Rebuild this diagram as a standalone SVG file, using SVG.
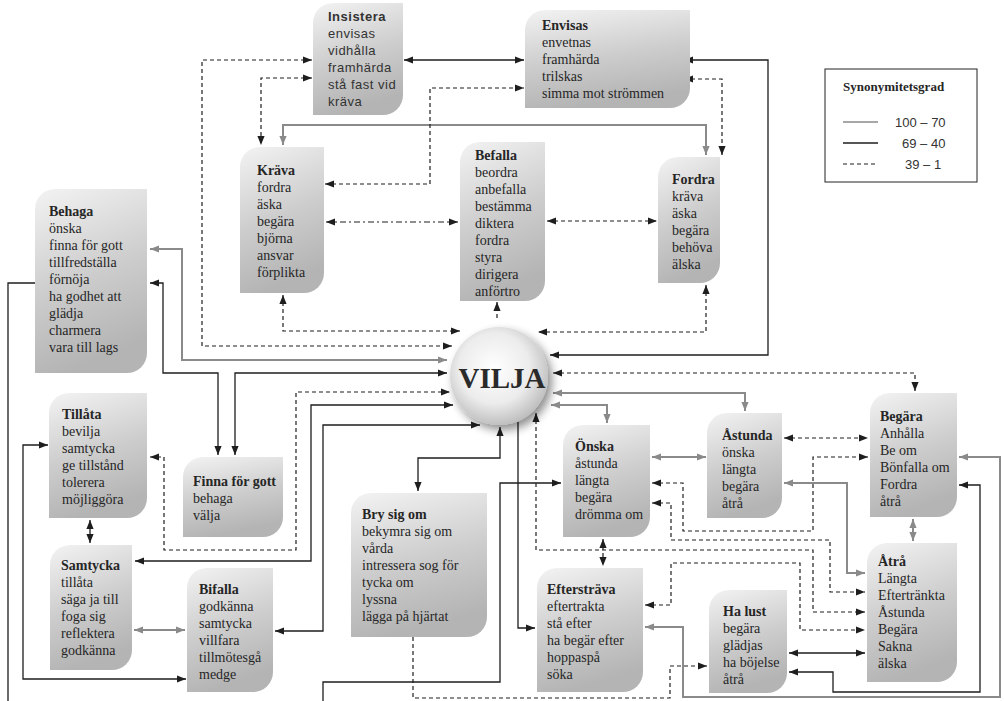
<svg xmlns="http://www.w3.org/2000/svg" width="1004" height="701" viewBox="0 0 1004 701">
<style>
.box{fill:url(#g);}
.t{font-family:"Liberation Serif","Times New Roman",serif;font-size:14px;fill:#262626;}
.s{font-family:"Liberation Sans",Arial,sans-serif;font-size:13px;fill:#333;letter-spacing:0.5px;}
.b{font-weight:bold;}
.k{fill:none;stroke:#1e1e1e;stroke-width:1.3;marker-start:url(#ak);marker-end:url(#ak);}
.d{fill:none;stroke:#1e1e1e;stroke-width:1.2;stroke-dasharray:4 3;marker-start:url(#ak);marker-end:url(#ak);}
.dd{fill:none;stroke:#1e1e1e;stroke-width:1.2;stroke-dasharray:6 3 2 3;marker-start:url(#ak);marker-end:url(#ak);}
.gr{fill:none;stroke:#8a8a8a;stroke-width:2;marker-start:url(#ag);marker-end:url(#ag);}
.e{marker-start:none;}
.n{marker-start:none;marker-end:none;}
</style>
<defs>
<linearGradient id="g" x1="0" y1="0" x2="0.25" y2="1">
<stop offset="0" stop-color="#f3f3f3"/>
<stop offset="0.55" stop-color="#cdcdcd"/>
<stop offset="1" stop-color="#b4b4b4"/>
</linearGradient>
<radialGradient id="vg" cx="0.45" cy="0.42" r="0.6">
<stop offset="0" stop-color="#ffffff"/>
<stop offset="0.6" stop-color="#ececec"/>
<stop offset="1" stop-color="#bcbcbc"/>
</radialGradient>
<filter id="sh" x="-30%" y="-30%" width="160%" height="160%">
<feGaussianBlur in="SourceAlpha" stdDeviation="5"/>
<feOffset dx="4" dy="5" result="o"/>
<feComponentTransfer><feFuncA type="linear" slope="0.45"/></feComponentTransfer>
<feMerge><feMergeNode/><feMergeNode in="SourceGraphic"/></feMerge>
</filter>
<marker id="ak" viewBox="0 0 10 8" refX="10" refY="4" markerWidth="9" markerHeight="7.2" markerUnits="userSpaceOnUse" orient="auto-start-reverse">
<path d="M0,0 L10,4 L0,8 Z" fill="#1e1e1e"/>
</marker>
<marker id="ag" viewBox="0 0 10 8" refX="10" refY="4" markerWidth="9" markerHeight="7.2" markerUnits="userSpaceOnUse" orient="auto-start-reverse">
<path d="M0,0 L10,4 L0,8 Z" fill="#8a8a8a"/>
</marker>
</defs>
<rect width="1004" height="701" fill="#ffffff"/>

<g id="connectors">
<path class="k" d="M404,60 H524"/>
<path class="d" d="M312,60 H202 V346 H452"/>
<path class="d" d="M312,78 H261 V145"/>
<path class="gr" d="M283,145 V125 H706 V155"/>
<path class="d" d="M684,79 H722 V155"/>
<path class="k" d="M684,60 H768 V355 H550"/>
<path class="d" d="M325,184 H430 V88 H524"/>
<path class="dd" d="M326,222 H458"/>
<path class="d" d="M547,221 H657"/>
<path class="d" d="M283,295 V331 H460"/>
<path class="d e" d="M497,318 V302"/>
<path class="d" d="M706,285 V332 H538"/>
<path class="gr" d="M150,249 H182 V360 H447"/>
<path class="k" d="M150,283 H163 V373 H218 V455"/>
<path class="k" d="M235,455 V373 H447"/>
<path class="k n" d="M35,283 H8 V701"/>
<path class="k" d="M48,445 H23 V679 H186"/>
<path class="k" d="M90,520 V543"/>
<path class="d" d="M150,457 H164 V550 H296 V392 H450"/>
<path class="k" d="M135,561 H311 V405 H453"/>
<path class="k" d="M275,631 H323 V425 H480"/>
<path class="gr" d="M134,630 H185"/>
<path class="k" d="M418,491 V458 H500 V427"/>
<path class="d" d="M553,373 H915 V391"/>
<path class="gr" d="M553,393 H745 V411"/>
<path class="gr" d="M551,405 H607 V423"/>
<path class="gr" d="M652,457 H706"/>
<path class="d" d="M784,438 H868"/>
<path class="d" d="M652,483 H683 V531 H813 V457 H868"/>
<path class="gr" d="M784,483 H847 V573 H865"/>
<path class="gr" d="M913,519 V541"/>
<path class="k" d="M959,485 H980 V692 H833 V672 H789"/>
<path class="gr" d="M959,457 H1000 V697 H683 V627 H645"/>
<path class="d" d="M652,503 H671 V540 H830 V592 H865"/>
<path class="d" d="M536,413 V550 H813 V612 H865"/>
<path class="d" d="M645,605 H671 V563 H800 V630 H865"/>
<path class="d" d="M603,539 V566"/>
<path class="k" d="M789,653 H865"/>
<path class="d e" d="M413,637 V698 H670 V666 H707"/>
<path class="k e" d="M518,422 V628 H535"/>
<path class="k e" d="M323,701 V682 H500 V483 H561"/>
</g>

<g id="insistera">
<path class="box" d="M333,3 H403 V95 A20 20 0 0 1 383,115 H313 V23 A20 20 0 0 1 333,3 Z"/>
<text class="s"><tspan x="328" y="21" class="b">Insistera</tspan><tspan x="328" y="38">envisas</tspan><tspan x="328" y="55">vidhålla</tspan><tspan x="328" y="72">framhärda</tspan><tspan x="328" y="89">stå fast vid</tspan><tspan x="328" y="106">kräva</tspan></text>
</g>
<g id="envisas">
<path class="box" d="M545,10 H690 V88 A20 20 0 0 1 670,108 H525 V30 A20 20 0 0 1 545,10 Z"/>
<text class="t"><tspan x="542" y="30" class="b">Envisas</tspan><tspan x="542" y="47">envetnas</tspan><tspan x="542" y="64">framhärda</tspan><tspan x="542" y="81">trilskas</tspan><tspan x="542" y="98">simma mot strömmen</tspan></text>
</g>
<g id="legend">
<rect x="825" y="69" width="152" height="113" fill="#ffffff" stroke="#222" stroke-width="1"/>
<text class="t b" x="843" y="91" style="font-size:13px">Synonymitetsgrad</text>
<line x1="843" y1="122" x2="878" y2="122" stroke="#8a8a8a" stroke-width="1.3"/>
<line x1="843" y1="143" x2="878" y2="143" stroke="#1e1e1e" stroke-width="1.3"/>
<line x1="843" y1="164" x2="878" y2="164" stroke="#1e1e1e" stroke-width="1.2" stroke-dasharray="4 3"/>
<text class="s" style="letter-spacing:0" x="895" y="127">100 – 70</text>
<text class="s" style="letter-spacing:0" x="902" y="148">69 – 40</text>
<text class="s" style="letter-spacing:0" x="905" y="169">39 – 1</text>
</g>
<g id="krava">
<path class="box" d="M260,147 H324 V273 A20 20 0 0 1 304,293 H240 V167 A20 20 0 0 1 260,147 Z"/>
<text class="t"><tspan x="257" y="175" class="b">Kräva</tspan><tspan x="257" y="192">fordra</tspan><tspan x="257" y="209">äska</tspan><tspan x="257" y="226">begära</tspan><tspan x="257" y="243">björna</tspan><tspan x="257" y="260">ansvar</tspan><tspan x="257" y="277">förplikta</tspan></text>
</g>
<g id="befalla">
<path class="box" d="M480,142 H545 V281 A20 20 0 0 1 525,301 H460 V162 A20 20 0 0 1 480,142 Z"/>
<text class="t"><tspan x="475" y="160" class="b">Befalla</tspan><tspan x="475" y="177">beordra</tspan><tspan x="475" y="194">anbefalla</tspan><tspan x="475" y="211">bestämma</tspan><tspan x="475" y="228">diktera</tspan><tspan x="475" y="245">fordra</tspan><tspan x="475" y="262">styra</tspan><tspan x="475" y="279">dirigera</tspan><tspan x="475" y="296">anförtro</tspan></text>
</g>
<g id="fordra">
<path class="box" d="M678,157 H720 V263 A20 20 0 0 1 700,283 H658 V177 A20 20 0 0 1 678,157 Z"/>
<text class="t"><tspan x="672" y="184" class="b">Fordra</tspan><tspan x="672" y="201">kräva</tspan><tspan x="672" y="218">äska</tspan><tspan x="672" y="235">begära</tspan><tspan x="672" y="252">behöva</tspan><tspan x="672" y="269">älska</tspan></text>
</g>
<g id="behaga">
<path class="box" d="M55,189 H147 V353 A20 20 0 0 1 127,373 H35 V209 A20 20 0 0 1 55,189 Z"/>
<text class="t"><tspan x="49" y="216" class="b">Behaga</tspan><tspan x="49" y="233">önska</tspan><tspan x="49" y="250">finna för gott</tspan><tspan x="49" y="267">tillfredställa</tspan><tspan x="49" y="284">förnöja</tspan><tspan x="49" y="301">ha godhet att</tspan><tspan x="49" y="318">glädja</tspan><tspan x="49" y="335">charmera</tspan><tspan x="49" y="352">vara till lags</tspan></text>
</g>
<g id="vilja">
<circle cx="499" cy="376" r="49" fill="url(#vg)" filter="url(#sh)"/>
<text x="502" y="388" text-anchor="middle" style="font-family:'Liberation Serif','Times New Roman',serif;font-size:29px;font-weight:bold;fill:#2a2a2a">VILJA</text>
</g>
<g id="tillata">
<path class="box" d="M69,393 H147 V498 A20 20 0 0 1 127,518 H49 V413 A20 20 0 0 1 69,393 Z"/>
<text class="t"><tspan x="62" y="419" class="b">Tillåta</tspan><tspan x="62" y="436">bevilja</tspan><tspan x="62" y="453">samtycka</tspan><tspan x="62" y="470">ge tillstånd</tspan><tspan x="62" y="487">tolerera</tspan><tspan x="62" y="504">möjliggöra</tspan></text>
</g>
<g id="finna">
<path class="box" d="M203,457 H283 V517 A20 20 0 0 1 263,537 H183 V477 A20 20 0 0 1 203,457 Z"/>
<text class="t"><tspan x="193" y="486" class="b">Finna för gott</tspan><tspan x="193" y="503">behaga</tspan><tspan x="193" y="520">välja</tspan></text>
</g>
<g id="brysigom">
<path class="box" d="M371,493 H487 V617 A20 20 0 0 1 467,637 H351 V513 A20 20 0 0 1 371,493 Z"/>
<text class="t"><tspan x="362" y="519" class="b">Bry sig om</tspan><tspan x="362" y="536">bekymra sig om</tspan><tspan x="362" y="553">vårda</tspan><tspan x="362" y="570">intressera sog för</tspan><tspan x="362" y="587">tycka om</tspan><tspan x="362" y="604">lyssna</tspan><tspan x="362" y="621">lägga på hjärtat</tspan></text>
</g>
<g id="samtycka">
<path class="box" d="M70,545 H132 V650 A20 20 0 0 1 112,670 H50 V565 A20 20 0 0 1 70,545 Z"/>
<text class="t"><tspan x="61" y="570" class="b">Samtycka</tspan><tspan x="61" y="587">tillåta</tspan><tspan x="61" y="604">säga ja till</tspan><tspan x="61" y="621">foga sig</tspan><tspan x="61" y="638">reflektera</tspan><tspan x="61" y="655">godkänna</tspan></text>
</g>
<g id="bifalla">
<path class="box" d="M207,568 H273 V672 A20 20 0 0 1 253,692 H187 V588 A20 20 0 0 1 207,568 Z"/>
<text class="t"><tspan x="199" y="594" class="b">Bifalla</tspan><tspan x="199" y="611">godkänna</tspan><tspan x="199" y="628">samtycka</tspan><tspan x="199" y="645">villfara</tspan><tspan x="199" y="662">tillmötesgå</tspan><tspan x="199" y="679">medge</tspan></text>
</g>
<g id="onska">
<path class="box" d="M583,425 H650 V517 A20 20 0 0 1 630,537 H563 V445 A20 20 0 0 1 583,425 Z"/>
<text class="t"><tspan x="575" y="451" class="b">Önska</tspan><tspan x="575" y="468">åstunda</tspan><tspan x="575" y="485">längta</tspan><tspan x="575" y="502">begära</tspan><tspan x="575" y="519">drömma om</tspan></text>
</g>
<g id="astunda">
<path class="box" d="M727,413 H782 V498 A20 20 0 0 1 762,518 H707 V433 A20 20 0 0 1 727,413 Z"/>
<text class="t"><tspan x="722" y="440" class="b">Åstunda</tspan><tspan x="722" y="457">önska</tspan><tspan x="722" y="474">längta</tspan><tspan x="722" y="491">begära</tspan><tspan x="722" y="508">åtrå</tspan></text>
</g>
<g id="begara">
<path class="box" d="M890,393 H957 V497 A20 20 0 0 1 937,517 H870 V413 A20 20 0 0 1 890,393 Z"/>
<text class="t"><tspan x="880" y="421" class="b">Begära</tspan><tspan x="880" y="438">Anhålla</tspan><tspan x="880" y="455">Be om</tspan><tspan x="880" y="472">Bönfalla om</tspan><tspan x="880" y="489">Fordra</tspan><tspan x="880" y="506">åtrå</tspan></text>
</g>
<g id="atra">
<path class="box" d="M887,543 H957 V662 A20 20 0 0 1 937,682 H867 V563 A20 20 0 0 1 887,543 Z"/>
<text class="t"><tspan x="878" y="566" class="b">Åtrå</tspan><tspan x="878" y="583">Längta</tspan><tspan x="878" y="600">Eftertränkta</tspan><tspan x="878" y="617">Åstunda</tspan><tspan x="878" y="634">Begära</tspan><tspan x="878" y="651">Sakna</tspan><tspan x="878" y="668">älska</tspan></text>
</g>
<g id="eftersträva">
<path class="box" d="M557,568 H643 V672 A20 20 0 0 1 623,692 H537 V588 A20 20 0 0 1 557,568 Z"/>
<text class="t"><tspan x="547" y="594" class="b">Eftersträva</tspan><tspan x="547" y="611">eftertrakta</tspan><tspan x="547" y="628">stå efter</tspan><tspan x="547" y="645">ha begär efter</tspan><tspan x="547" y="662">hoppaspå</tspan><tspan x="547" y="679">söka</tspan></text>
</g>
<g id="halust">
<path class="box" d="M729,590 H787 V673 A20 20 0 0 1 767,693 H709 V610 A20 20 0 0 1 729,590 Z"/>
<text class="t"><tspan x="723" y="616" class="b">Ha lust</tspan><tspan x="723" y="633">begära</tspan><tspan x="723" y="650">glädjas</tspan><tspan x="723" y="667">ha böjelse</tspan><tspan x="723" y="684">åtrå</tspan></text>
</g>
</svg>
